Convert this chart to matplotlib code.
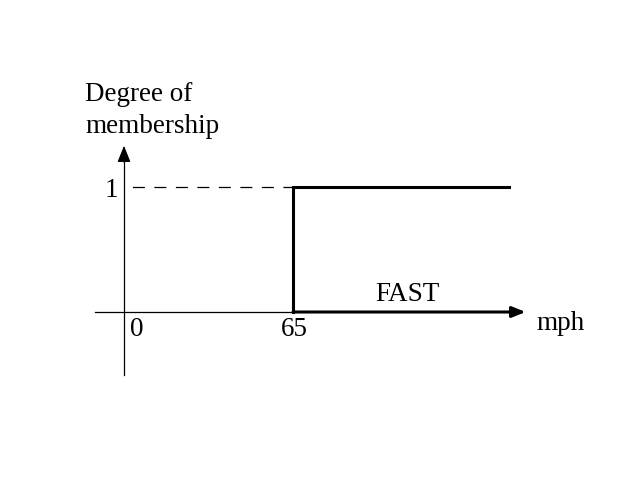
import matplotlib
matplotlib.use('Agg')
import matplotlib.pyplot as plt

# crisp set "FAST": membership 0 below 65 mph, 1 from 65 up
speed = [65, 65, 148]
membership = [0, 1, 1]
x_ticks = [0, 65]
x_tick_labels = ['0', '65']
y_ticks = [1]
y_tick_labels = ['1']
set_name = 'FAST'
x_label = 'mph'
y_label = ['Degree of', 'membership']

plt.rcParams['font.family'] = ['Liberation Serif', 'DejaVu Serif']

fig = plt.figure(figsize=(6.4, 4.8), dpi=100)
ax = fig.add_axes([0, 0, 1, 1])
# 2.6 px per mph, 125 px per membership unit, origin at pixel (124, 312)
ax.set_xlim(-124 / 2.6, (640 - 124) / 2.6)
ax.set_ylim((312 - 480) / 125, 312 / 125)
ax.axis('off')

head = '-|>,head_length=1.0,head_width=0.4'
# y axis with arrow
ax.plot([0, 0], [-0.5, 1.2], color='black', lw=0.9)
ax.annotate('', xy=(0, 1.33), xytext=(0, 1.2),
            arrowprops=dict(arrowstyle=head, color='black', lw=0.9,
                            shrinkA=0, shrinkB=0))
# x axis (thin part)
ax.plot([-11, 65], [0, 0], color='black', lw=0.9)
# thick part with arrow
ax.annotate('', xy=(154.5, 0), xytext=(65, 0),
            arrowprops=dict(arrowstyle='-|>,head_length=0.8,head_width=0.32',
                            color='black', lw=2.2, shrinkA=0, shrinkB=0))

# dashed guide at membership 1
ax.plot([0, 65], [1, 1], color='black', lw=0.9, linestyle=(10.5, (9.6, 7.6)))

# membership function
ax.plot(speed, membership, color='black', lw=2.2, solid_joinstyle='miter')

fs = 19.5
for xt, lab in zip(x_ticks, x_tick_labels):
    ax.text(xt + (5 if xt == 0 else 0.4), -0.19, lab, fontsize=fs,
            ha='center', va='baseline')
for yt, lab in zip(y_ticks, y_tick_labels):
    ax.text(-2.3, yt - 0.08, lab, fontsize=fs, ha='right', va='baseline')

ax.text(96.5, 0.088, set_name, fontsize=fs, ha='left', va='baseline')
ax.text(158.8, -0.144, x_label, fontsize=fs, ha='left', va='baseline')
ax.text(-15, 1.688, y_label[0], fontsize=fs, ha='left', va='baseline')
ax.text(-15, 1.432, y_label[1], fontsize=fs, ha='left', va='baseline')

fig.savefig('out.png', dpi=100)
